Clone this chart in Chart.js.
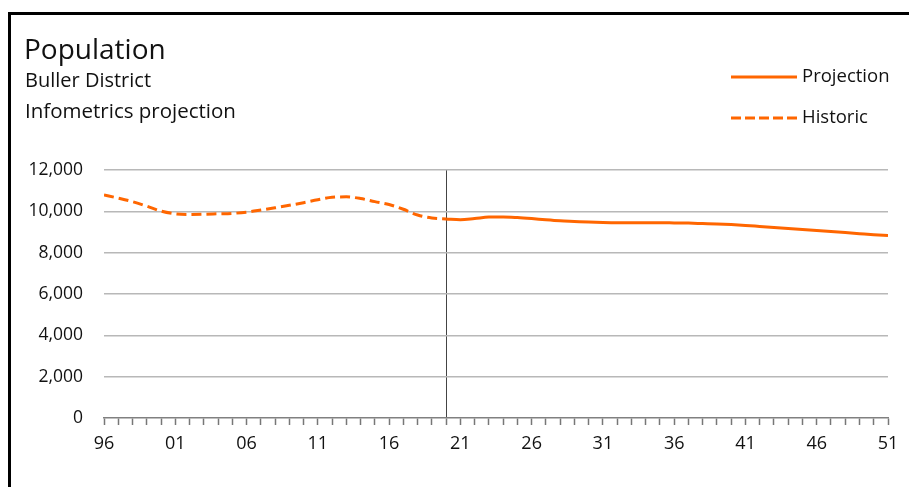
<!DOCTYPE html>
<html>
<head>
<meta charset="utf-8">
<script src="https://cdn.jsdelivr.net/npm/chart.js@4"></script>
<style>
  html, body { margin: 0; padding: 0; background: #fff; overflow: hidden; }
  body { width: 909px; height: 487px; position: relative; font-family: "Open Sans", "Noto Sans", sans-serif; color: #111; }
  #frame { position: absolute; left: 8px; top: 12px; width: 1000px; height: 1000px; border: 3px solid #000; box-sizing: border-box; }
  #wrap { position: absolute; left: 0; top: 0; width: 909px; height: 487px; }
  .t { position: absolute; white-space: nowrap; line-height: 1; }
  #title { left: 24px; top: 34px; font-size: 28px; }
  #sub1 { left: 25px; top: 70px; font-size: 20px; }
  #sub2 { left: 25px; top: 100px; font-size: 20.5px; }
  #legPT { left: 802px; top: 66px; font-size: 18.5px; }
  #legHT { left: 802px; top: 107px; font-size: 18.5px; }
</style>
</head>
<body>
<div id="frame"></div>
<div id="wrap"><canvas id="c" width="909" height="487"></canvas></div>
<div class="t" id="title">Population</div>
<div class="t" id="sub1">Buller District</div>
<div class="t" id="sub2">Infometrics projection</div>
<svg class="t" style="left:731px;top:70px" width="66" height="60">
  <line x1="0" y1="7" x2="66" y2="7" stroke="#FF6600" stroke-width="3"/>
  <line x1="0" y1="48" x2="66" y2="48" stroke="#FF6600" stroke-width="3" stroke-dasharray="10,4"/>
</svg>
<div class="t" id="legPT">Projection</div>
<div class="t" id="legHT">Historic</div>
<script>
const historicYears = [1996,1997,1998,1999,2000,2001,2002,2003,2004,2005,2006,2007,2008,2009,2010,2011,2012,2013,2014,2015,2016,2017,2018,2019,2020];
const historicValues = [10790,10640,10470,10250,10010,9880,9850,9860,9880,9900,9960,10060,10170,10290,10420,10560,10680,10700,10620,10470,10330,10100,9820,9680,9630];
const projectionYears = [2020,2021,2022,2023,2024,2025,2026,2027,2028,2029,2030,2031,2032,2033,2034,2035,2036,2037,2038,2039,2040,2041,2042,2043,2044,2045,2046,2047,2048,2049,2050,2051];
const projectionValues = [9630,9590,9650,9720,9730,9700,9650,9590,9540,9510,9480,9460,9450,9450,9450,9450,9440,9430,9410,9390,9360,9320,9270,9220,9170,9120,9070,9020,8970,8920,8870,8830];
const xLabelYears = [1996,2001,2006,2011,2016,2021,2026,2031,2036,2041,2046,2051];
const yTicks = [0,2000,4000,6000,8000,10000,12000];
const dividerYear = 2020;

const orange = '#FF6600';
const toPts = (xs, ys) => xs.map((x, i) => ({x, y: ys[i]}));
const fam = '"Open Sans", "Noto Sans", sans-serif';

new Chart(document.getElementById('c'), {
  type: 'line',
  data: {
    datasets: [
      { label: 'Projection', data: toPts(projectionYears, projectionValues), borderColor: orange, borderWidth: 3, pointRadius: 0, tension: 0.4, cubicInterpolationMode: 'monotone', fill: false },
      { label: 'Historic', data: toPts(historicYears, historicValues), borderColor: orange, borderWidth: 3, borderDash: [10, 5], pointRadius: 0, tension: 0.4, cubicInterpolationMode: 'monotone', fill: false }
    ]
  },
  options: {
    responsive: false,
    animation: false,
    layout: { padding: { left: 0, right: 21, top: 170, bottom: 0 } },
    plugins: { legend: { display: false }, tooltip: { enabled: false }, title: { display: false } },
    scales: {
      x: {
        type: 'linear',
        min: 1996, max: 2051,
        afterFit: s => { s.height = 69; },
        afterBuildTicks: s => { const t = []; for (let v = 1996; v <= 2051; v++) t.push({value: v}); s.ticks = t; },
        ticks: {
          autoSkip: false, maxRotation: 0, padding: 8,
          color: '#111',
          font: { family: fam, size: 18 },
          callback: v => xLabelYears.includes(v) ? String(v).slice(2) : ''
        },
        grid: {
          drawOnChartArea: true, drawTicks: true, tickLength: 7,
          color: ctx => (ctx.tick && ctx.tick.value === dividerYear) ? '#444' : 'rgba(0,0,0,0)',
          tickColor: '#777', lineWidth: 1, tickWidth: 1.5
        },
        border: { display: true, color: '#808080', width: 1.5 }
      },
      y: {
        min: 0, max: 12000,
        afterFit: s => { s.width = 104; },
        afterBuildTicks: s => { s.ticks = yTicks.map(v => ({value: v})); },
        ticks: {
          padding: 21, color: '#111',
          font: { family: fam, size: 17.5 },
          callback: v => v.toLocaleString('en-US')
        },
        grid: { drawTicks: false, color: ctx => (ctx.tick && ctx.tick.value === 0) ? 'rgba(0,0,0,0)' : '#b8b8b8', lineWidth: 1.5 },
        border: { display: false }
      }
    }
  }
});
</script>
</body>
</html>
